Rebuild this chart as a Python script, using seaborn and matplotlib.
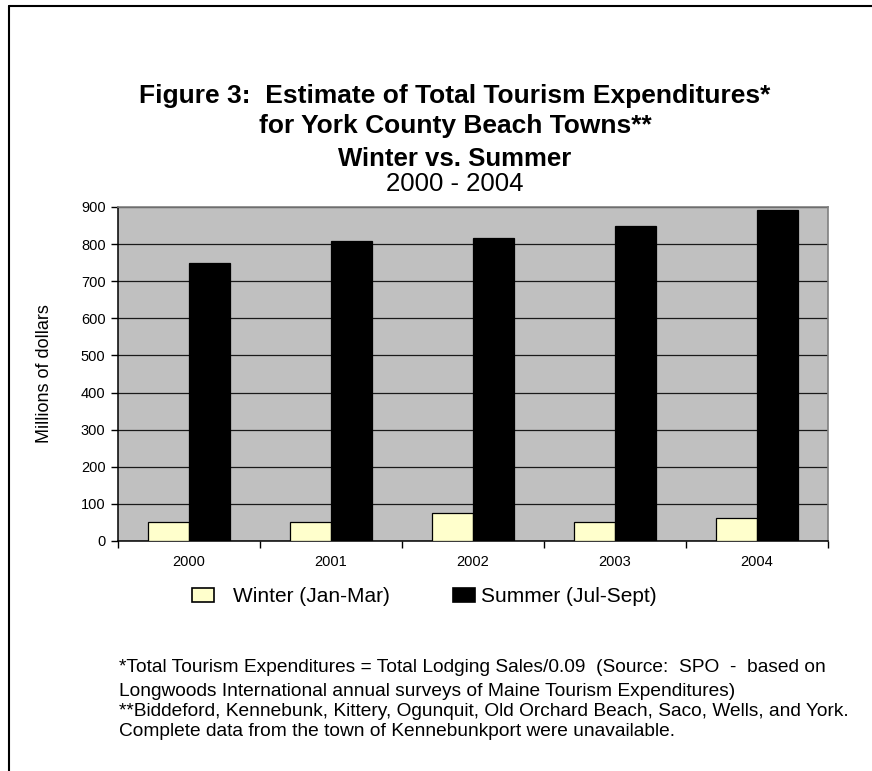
import matplotlib
matplotlib.use("Agg")
import matplotlib.pyplot as plt
from matplotlib.lines import Line2D
from matplotlib.patches import Patch
import seaborn as sns
import pandas as pd

# ---- data ----
years = ["2000", "2001", "2002", "2003", "2004"]
winter = [52, 52, 76, 52, 61]
summer = [750, 809, 817, 850, 893]
series_names = ["Winter (Jan-Mar)", "Summer (Jul-Sept)"]
y_ticks = [0, 100, 200, 300, 400, 500, 600, 700, 800, 900]

df = pd.DataFrame({
    "Year": years * 2,
    "Value": winter + summer,
    "Season": [series_names[0]] * len(years) + [series_names[1]] * len(years),
})

sns.set_theme(style="white")
plt.rcParams["font.family"] = ["Liberation Sans", "DejaVu Sans"]
for k in ["text.color", "axes.labelcolor", "xtick.color", "ytick.color"]:
    plt.rcParams[k] = "black"

W, H = 872, 771
fig = plt.figure(figsize=(W / 100, H / 100), dpi=100)
fig.patch.set_facecolor("white")

L, R, T, B = 118, 828, 207, 541
ax = fig.add_axes([L / W, 1 - B / H, (R - L) / W, (B - T) / H])
ax.set_facecolor("#C0C0C0")

colors = {series_names[0]: "#FFFFCC", series_names[1]: "#000000"}
sns.barplot(data=df, x="Year", y="Value", hue="Season", order=years,
            hue_order=series_names, palette=colors, width=0.58, gap=0,
            edgecolor="black", linewidth=0.9, saturation=1, ax=ax,
            legend=False, zorder=3)

ax.set_xlim(-0.5, len(years) - 0.5)
ax.set_ylim(0, 900)
ax.set_yticks(y_ticks)
ax.set_yticklabels([str(v) for v in y_ticks], fontsize=10.5)
ax.yaxis.grid(True, color="#1a1a1a", linewidth=0.9, zorder=0)
ax.set_axisbelow(True)
ax.tick_params(axis="y", which="major", direction="out", length=5, width=1,
               color="black", pad=4, left=True)
ax.set_xticks(range(len(years)))
ax.set_xticklabels(years, fontsize=10.5)
ax.tick_params(axis="x", which="major", length=0, pad=10)
ax.set_xticks([i - 0.5 for i in range(len(years) + 1)], minor=True)
ax.tick_params(axis="x", which="minor", direction="out", length=5, width=1,
               color="black", bottom=True)
ax.set_xlabel("")
ax.set_ylabel("Millions of dollars", fontsize=13, labelpad=20)

for s in ["top", "right"]:
    ax.spines[s].set_color("#808080")
    ax.spines[s].set_linewidth(1.2)
for s in ["left", "bottom"]:
    ax.spines[s].set_color("black")
    ax.spines[s].set_linewidth(1.1)

# ---- titles ----
cx = 455 / W
fig.text(cx, 1 - 96 / H, "Figure 3:  Estimate of Total Tourism Expenditures*",
         ha="center", va="center", fontsize=19, fontweight="bold")
fig.text(cx, 1 - 126 / H, "for York County Beach Towns**",
         ha="center", va="center", fontsize=19, fontweight="bold")
fig.text(cx, 1 - 159 / H, "Winter vs. Summer",
         ha="center", va="center", fontsize=18.5, fontweight="bold")
fig.text(cx, 1 - 184 / H, "2000 - 2004",
         ha="center", va="center", fontsize=18.5)

# ---- legend ----
handles = [Patch(facecolor=colors[n], edgecolor="black", linewidth=1.2) for n in series_names]
fig.legend([handles[0]], [series_names[0]], loc="center left",
           bbox_to_anchor=(192 / W, 1 - 597 / H), frameon=False,
           fontsize=15, handlelength=1.05, handleheight=0.65,
           handletextpad=0.9, borderpad=0, borderaxespad=0)
fig.legend([handles[1]], [series_names[1]], loc="center left",
           bbox_to_anchor=(453 / W, 1 - 597 / H), frameon=False,
           fontsize=15, handlelength=1.05, handleheight=0.65,
           handletextpad=0.3, borderpad=0, borderaxespad=0)

# ---- footnotes ----
notes = [
    ("*Total Tourism Expenditures = Total Lodging Sales/0.09  (Source:  SPO  -  based on", 668),
    ("Longwoods International annual surveys of Maine Tourism Expenditures)", 692),
    ("**Biddeford, Kennebunk, Kittery, Ogunquit, Old Orchard Beach, Saco, Wells, and York.", 712),
    ("Complete data from the town of Kennebunkport were unavailable.", 732),
]
for txt, y in notes:
    fig.text(119 / W, 1 - y / H, txt, ha="left", va="center", fontsize=13.8)

# ---- outer frame (top and left edges visible) ----
fig.add_artist(Line2D([9 / W, 9 / W], [0, 1 - 6 / H], color="black", linewidth=1.5,
                      transform=fig.transFigure))
fig.add_artist(Line2D([9 / W, 1], [1 - 6 / H, 1 - 6 / H], color="black", linewidth=1.5,
                      transform=fig.transFigure))

fig.savefig("out.png", dpi=100)
